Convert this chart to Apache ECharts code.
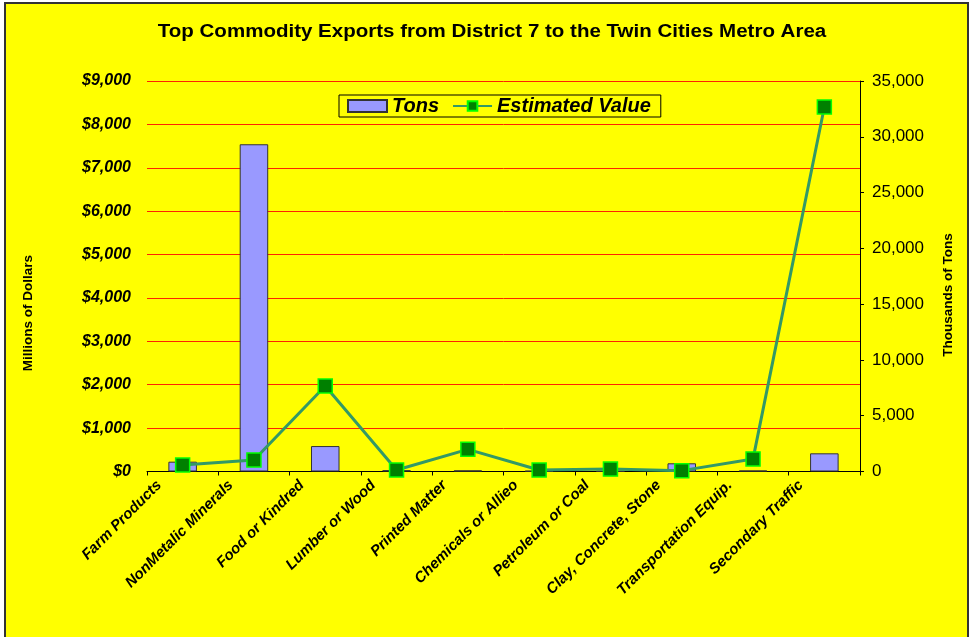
<!DOCTYPE html>
<html>
<head>
<meta charset="utf-8">
<script src="https://cdn.jsdelivr.net/npm/echarts@6/dist/echarts.min.js"></script>
<style>
  html, body { margin: 0; padding: 0; background: #ffffff; }
  #chart { width: 977px; height: 637px; }
</style>
</head>
<body>
<div id="chart"></div>
<script>
// Commodity groups shipped from District 7
const categories = [
  'Farm Products', 'NonMetalic Minerals', 'Food or Kindred', 'Lumber or Wood',
  'Printed Matter', 'Chemicals or Allieo', 'Petroleum or Coal',
  'Clay, Concrete, Stone', 'Transportation Equip.', 'Secondary Traffic'
];
// Thousands of tons (right axis)
const tons = [880, 29330, 2280, 120, 100, 60, 40, 735, 90, 1630];
// Millions of dollars (left axis)
const estimatedValue = [150, 265, 1970, 35, 510, 35, 55, 20, 290, 8400];

const dollarTicks = { min: 0, max: 9000, interval: 1000 };
const tonTicks = { min: 0, max: 35000, interval: 5000 };

const fmt = v => v.toLocaleString('en-US');
const FONT = 'Liberation Sans, Arial, sans-serif';

const chart = echarts.init(document.getElementById('chart'));
chart.setOption({
  animation: false,
  backgroundColor: 'transparent',
  textStyle: { fontFamily: FONT },
  graphic: [
    {
      type: 'rect', z: -100, silent: true,
      shape: { x: 5, y: 3, width: 963, height: 640 },
      style: { fill: '#ffff00', stroke: '#333333', lineWidth: 2 }
    },
    {
      type: 'text', x: 492, y: 32, scaleX: 1.14,
      style: {
        text: 'Top Commodity Exports from District 7 to the Twin Cities Metro Area',
        font: 'bold 18px ' + FONT, fill: '#000',
        align: 'center', verticalAlign: 'middle'
      }
    },
    {
      type: 'text', x: 28, y: 313, rotation: Math.PI / 2,
      style: {
        text: 'Millions of Dollars', font: 'bold 13.5px ' + FONT, fill: '#000',
        align: 'center', verticalAlign: 'middle'
      }
    },
    {
      type: 'text', x: 948, y: 295, rotation: Math.PI / 2,
      style: {
        text: 'Thousands of Tons', font: 'bold 13.5px ' + FONT, fill: '#000',
        align: 'center', verticalAlign: 'middle'
      }
    }
  ],
  legend: {
    left: 339, top: 95,
    padding: [1, 10, 1, 8],
    itemGap: 13,
    itemWidth: 39, itemHeight: 12,
    backgroundColor: '#ffff00',
    borderColor: '#000', borderWidth: 1,
    textStyle: { fontSize: 20, fontWeight: 'bold', fontStyle: 'italic', color: '#000' },
    data: [{ name: 'Tons', icon: 'rect' }, { name: 'Estimated Value' }]
  },
  grid: { left: 147, right: 117, top: 81, bottom: 165.5, containLabel: false },
  xAxis: {
    type: 'category',
    data: categories,
    boundaryGap: true,
    axisLine: { show: true, lineStyle: { color: '#000', width: 1 } },
    axisTick: { show: true, length: 4, lineStyle: { color: '#000' } },
    axisLabel: {
      interval: 0, rotate: 45, margin: -12,
      padding: [0, 33, 0, 0],
      fontSize: 15, fontWeight: 'bold', fontStyle: 'italic', color: '#000'
    },
    splitLine: { show: false }
  },
  yAxis: [
    {
      type: 'value', position: 'left',
      min: dollarTicks.min, max: dollarTicks.max, interval: dollarTicks.interval,
      axisLine: { show: false },
      axisTick: { show: false },
      axisLabel: {
        margin: 16, fontSize: 16, fontWeight: 'bold', fontStyle: 'italic', color: '#000',
        formatter: v => '$' + fmt(v)
      },
      splitLine: { show: true, lineStyle: { color: '#ff2200', width: 1 } }
    },
    {
      type: 'value', position: 'right',
      min: tonTicks.min, max: tonTicks.max, interval: tonTicks.interval,
      axisLine: { show: true, lineStyle: { color: '#000', width: 1 } },
      axisTick: { show: true, length: 4, lineStyle: { color: '#000' } },
      axisLabel: { margin: 12, fontSize: 17, color: '#000', formatter: v => fmt(v) },
      splitLine: { show: false }
    }
  ],
  series: [
    {
      name: 'Tons', type: 'bar', yAxisIndex: 1,
      data: tons,
      barWidth: '40%',
      itemStyle: { color: '#9999ff', borderColor: '#333333', borderWidth: 1 }
    },
    {
      name: 'Estimated Value', type: 'line', yAxisIndex: 0,
      data: estimatedValue,
      symbol: 'rect', symbolSize: 14,
      lineStyle: { color: '#339966', width: 3 },
      itemStyle: { color: '#008000', borderColor: '#00ff00', borderWidth: 1.5 }
    }
  ]
});
</script>
</body>
</html>
